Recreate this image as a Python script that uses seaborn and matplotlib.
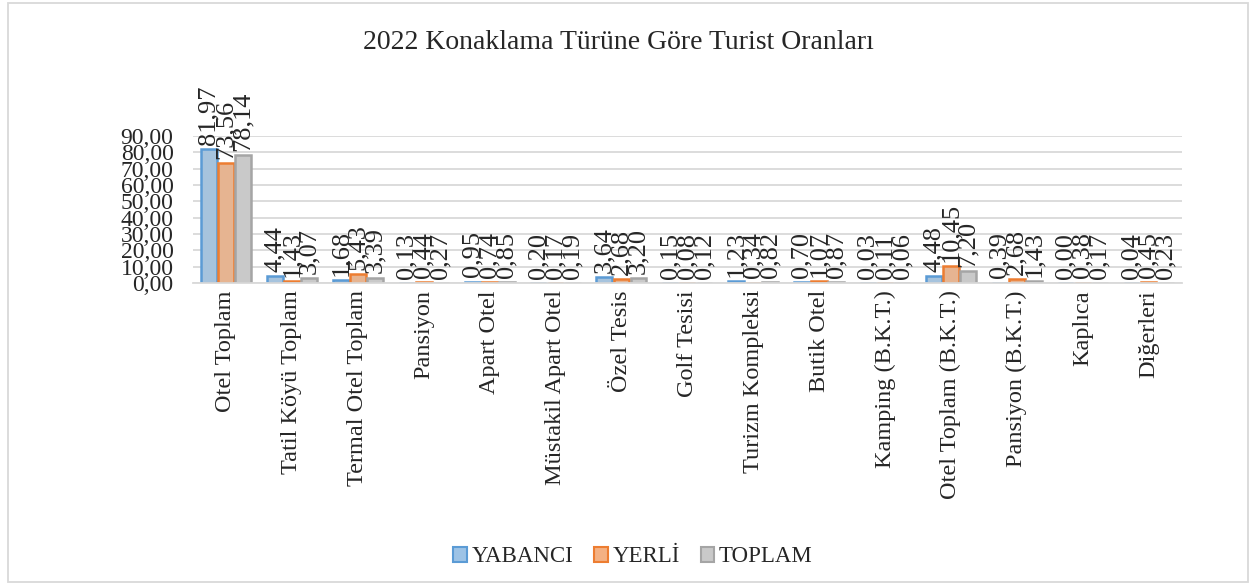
import numpy as np
import pandas as pd
import matplotlib
matplotlib.use("Agg")
import matplotlib.pyplot as plt
import seaborn as sns

# -----------------------------
# Data
# -----------------------------
categories = [
    "Otel Toplam", "Tatil Köyü Toplam", "Termal Otel Toplam", "Pansiyon",
    "Apart Otel", "Müstakil Apart Otel", "Özel Tesis", "Golf Tesisi",
    "Turizm Kompleksi", "Butik Otel", "Kamping (B.K.T.)", "Otel Toplam (B.K.T.)",
    "Pansiyon (B.K.T.)", "Kaplıca", "Diğerleri",
]
yabanci = [81.97, 4.44, 1.68, 0.13, 0.95, 0.20, 3.64, 0.15, 1.23, 0.70, 0.03, 4.48, 0.39, 0.00, 0.04]
yerli = [73.56, 1.43, 5.43, 0.44, 0.74, 0.17, 2.68, 0.08, 0.34, 1.07, 0.11, 10.45, 2.68, 0.38, 0.45]
toplam = [78.14, 3.07, 3.39, 0.27, 0.85, 0.19, 3.20, 0.12, 0.82, 0.87, 0.06, 7.20, 1.43, 0.17, 0.23]
series_names = ["YABANCI", "YERLİ", "TOPLAM"]
y_ticks = np.arange(0, 91, 10)

df = pd.DataFrame({"Tür": categories, "YABANCI": yabanci, "YERLİ": yerli, "TOPLAM": toplam})
long = df.melt(id_vars="Tür", var_name="Seri", value_name="Oran")

fills = {"YABANCI": "#9dc3e6", "YERLİ": "#f4b183", "TOPLAM": "#c9c9c9"}
edges = {"YABANCI": "#5b9bd5", "YERLİ": "#ed7d31", "TOPLAM": "#a5a5a5"}

# =============================
# Style
# =============================
sns.set_style("white")
plt.rcParams["font.family"] = ["Liberation Serif", "DejaVu Serif"]

fig = plt.figure(figsize=(12.56, 5.85), dpi=100)
ax = fig.add_axes([0.1537, 0.516, 0.787, 0.2515])

sns.barplot(
    data=long, x="Tür", y="Oran", hue="Seri",
    order=categories, hue_order=series_names,
    palette=fills, width=0.78, gap=0.08,
    linewidth=1.8, ax=ax, legend=False,
)

# edges per series + value labels
for cont, name in zip(ax.containers, series_names):
    for patch in cont:
        patch.set_edgecolor(edges[name])
    labels = [f"{v:.2f}".replace(".", ",") for v in df[name]]
    ax.bar_label(cont, labels=labels, rotation=90, padding=3, fontsize=19)

ax.set_ylim(0, 90)
ax.set_xlim(-0.5, len(categories) - 0.5)
ax.set_yticks(y_ticks)
ax.set_yticklabels([f"{v:.2f}".replace(".", ",") for v in y_ticks], fontsize=17)
ax.set_xticks(range(len(categories)))
ax.set_xticklabels(categories, rotation=90, fontsize=17.5)
ax.set_xlabel("")
ax.set_ylabel("")
ax.tick_params(axis="y", length=0, pad=14)
ax.tick_params(axis="x", length=0, pad=5)
ax.grid(axis="y", color="#d9d9d9", linewidth=1.3)
ax.set_axisbelow(True)
for side in ["top", "right", "left"]:
    ax.spines[side].set_visible(False)
ax.spines["bottom"].set_color("#d9d9d9")
ax.spines["bottom"].set_linewidth(1.3)

# title
fig.text(0.492, 0.928, "2022 Konaklama Türüne Göre Turist Oranları",
         ha="center", va="center", fontsize=20)

# legend
handles = [plt.Rectangle((0, 0), 1, 1, facecolor=fills[n], edgecolor=edges[n], linewidth=1.5)
           for n in series_names]
fig.legend(handles, series_names, loc="center", bbox_to_anchor=(0.504, 0.048),
           ncol=3, frameon=False, fontsize=16.5, handlelength=0.6, handleheight=0.6,
           handletextpad=0.2, columnspacing=0.9)

# outer border
fig.patches.append(plt.Rectangle((0.006, 0.005), 0.988, 0.99, transform=fig.transFigure,
                                 fill=False, edgecolor="#d9d9d9", linewidth=1.3))

plt.savefig("out.png", dpi=100)
